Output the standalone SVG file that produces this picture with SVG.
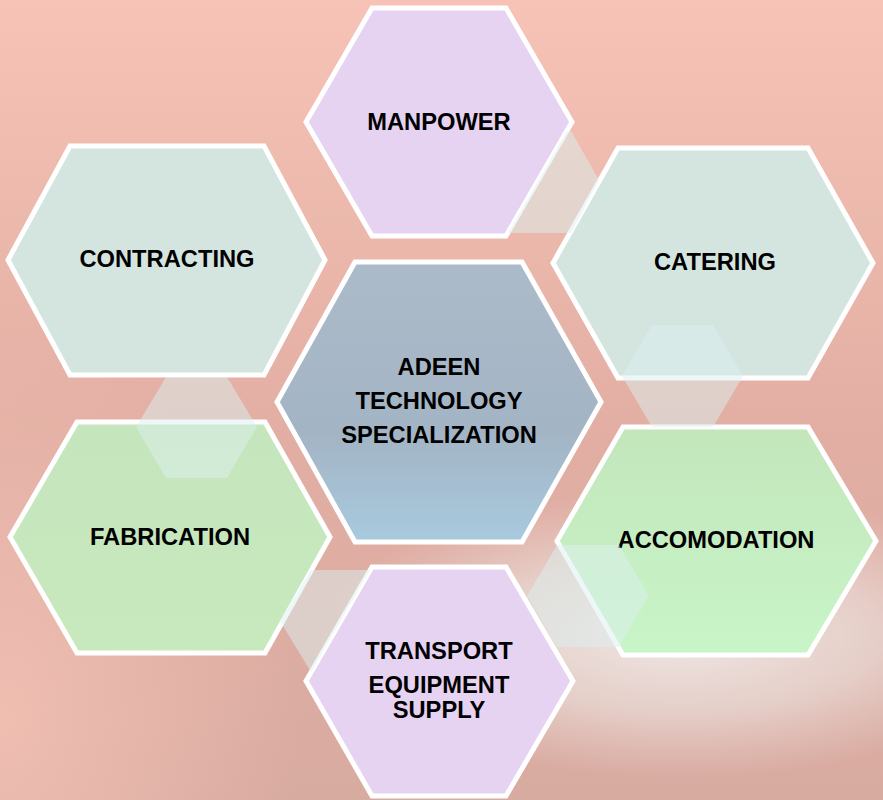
<svg xmlns="http://www.w3.org/2000/svg" width="883" height="800" viewBox="0 0 883 800">
<defs>
<linearGradient id="bg" x1="0" y1="0" x2="0" y2="1">
<stop offset="0" stop-color="#f6c3b6"/>
<stop offset="0.55" stop-color="#e2aea3"/>
<stop offset="1" stop-color="#d8aba1"/>
</linearGradient>
<radialGradient id="bgLeft" cx="0" cy="720" r="300" gradientUnits="userSpaceOnUse" gradientTransform="translate(0 720) scale(1 1.3) translate(0 -720)">
<stop offset="0" stop-color="#f2c0b3" stop-opacity="0.9"/>
<stop offset="1" stop-color="#f2c0b3" stop-opacity="0"/>
</radialGradient>
<radialGradient id="glow" cx="680" cy="635" r="360" gradientUnits="userSpaceOnUse" gradientTransform="translate(680 635) scale(1 0.4) translate(-680 -635)">
<stop offset="0" stop-color="#efebe9" stop-opacity="0.95"/>
<stop offset="0.55" stop-color="#ebe0dc" stop-opacity="0.65"/>
<stop offset="1" stop-color="#e8d8d4" stop-opacity="0"/>
</radialGradient>
<linearGradient id="gCenter" x1="0" y1="0" x2="0" y2="1">
<stop offset="0" stop-color="#acbbca"/>
<stop offset="0.6" stop-color="#a3b4c4"/>
<stop offset="1" stop-color="#a8cadf"/>
</linearGradient>
<linearGradient id="gAcc" x1="0" y1="0" x2="0" y2="1">
<stop offset="0" stop-color="#c3e6bb"/>
<stop offset="1" stop-color="#c8f5c8"/>
</linearGradient>
<linearGradient id="gFab" x1="0" y1="0" x2="0" y2="1">
<stop offset="0" stop-color="#c5e5bc"/>
<stop offset="1" stop-color="#c8e9be"/>
</linearGradient>
</defs>
<style>
.hex{stroke:#ffffff;stroke-width:5;stroke-linejoin:miter}
.lav{fill:#e6d3f1}
.mint{fill:#d4e5e0}
.con{fill:#dcf0f0;fill-opacity:0.5;stroke:none}
.t{font-family:"Liberation Sans",Arial,Helvetica,sans-serif;font-weight:bold;font-size:23.7px;fill:#000;text-anchor:middle}
</style>
<rect x="0" y="0" width="883" height="800" fill="url(#bg)"/>
<rect x="0" y="0" width="883" height="800" fill="url(#bgLeft)"/>
<rect x="0" y="0" width="883" height="800" fill="url(#glow)"/>

<g id="manpower">
<polygon class="hex lav" points="372,8 506,8 572,122 506,236 372,236 306,122"/>
<text class="t" x="439" y="129.5">MANPOWER</text>
</g>
<g id="contracting">
<polygon class="hex mint" points="70,146 264,146 325,260 264,375 70,375 8,260"/>
<text class="t" x="167" y="267">CONTRACTING</text>
</g>
<g id="catering">
<polygon class="hex mint" points="618,148 808,148 873,263 808,378 618,378 553,263"/>
<text class="t" x="715" y="270">CATERING</text>
</g>
<g id="center">
<polygon class="hex" fill="url(#gCenter)" points="355,262 522,262 601,402 522,542 355,542 277,402"/>
<text class="t" x="439" y="374.5">ADEEN</text>
<text class="t" x="439" y="408.5">TECHNOLOGY</text>
<text class="t" x="439" y="443">SPECIALIZATION</text>
</g>
<g id="fabrication">
<polygon class="hex" fill="url(#gFab)" points="77,422 265,422 330,537 265,653 77,653 10,537"/>
<text class="t" x="170" y="545">FABRICATION</text>
</g>
<g id="accomodation">
<polygon class="hex" fill="url(#gAcc)" points="623,427 808,427 876,541 808,655 623,655 557,541"/>
<text class="t" x="716" y="548">ACCOMODATION</text>
</g>
<g id="transport">
<polygon class="hex lav" points="372,567 506,567 573,681 506,796 372,796 306,681"/>
<text class="t" x="439" y="659">TRANSPORT</text>
<text class="t" x="439" y="693">EQUIPMENT</text>
<text class="t" x="439" y="718">SUPPLY</text>
</g>

<g id="connectors">
<polygon class="con" points="567,131 571,131 599,180 571,233 508,233"/>
<polygon class="con" points="652,325 713,325 743,376 713,427 652,427 622,376"/>
<polygon class="con" points="166,377 227,377 257,427 227,478 166,478 136,427"/>
<polygon class="con" points="557,545 619,545 649,596 619,647 557,647 527,596"/>
<polygon class="con" points="311,570 370,570 311,672 280,621"/>
</g>
</svg>
